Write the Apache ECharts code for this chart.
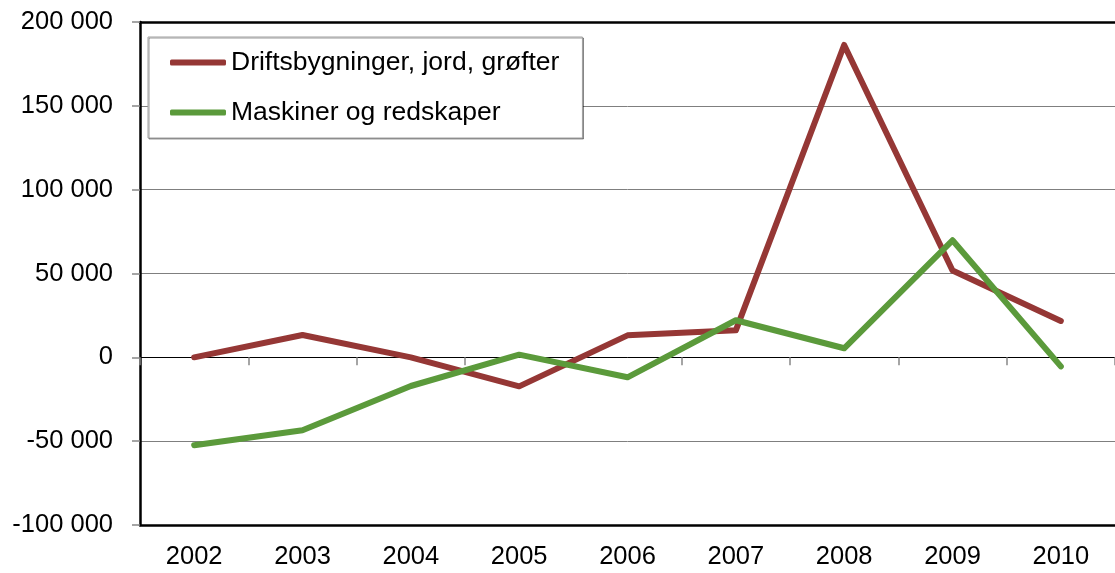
<!DOCTYPE html>
<html>
<head>
<meta charset="utf-8">
<script src="https://cdn.jsdelivr.net/npm/echarts@6/dist/echarts.min.js"></script>
<style>
html,body{margin:0;padding:0;background:#fff;}
#c{width:1115px;height:573px;}
</style>
</head>
<body>
<div id="c"></div>
<script>
var categories = ['2002','2003','2004','2005','2006','2007','2008','2009','2010'];
var seriesNames = ['Driftsbygninger, jord, grøfter','Maskiner og redskaper'];
var driftsbygninger = [0, 13300, 0, -17300, 13100, 16100, 186300, 51800, 21700];
var maskiner = [-52400, -43500, -17100, 1600, -11900, 22100, 5400, 69800, -5400];
var yMin = -100000, yMax = 200000, yStep = 50000;

function fmt(v){
  var s = String(Math.abs(v));
  s = s.replace(/\B(?=(\d{3})+(?!\d))/g, ' ');
  return (v < 0 ? '-' : '') + s;
}

var font = 'Liberation Sans, Arial, sans-serif';
var chart = echarts.init(document.getElementById('c'), null, {renderer:'canvas'});
chart.setOption({
  animation:false,
  backgroundColor:'#fff',
  textStyle:{fontFamily:font},
  grid:{left:140,right:0,top:22,bottom:48,containLabel:false},
  legend:{
    orient:'vertical',
    left:148, top:37,
    padding:[12,23,12,22],
    itemGap:23,
    itemWidth:56, itemHeight:6,
    icon:'roundRect',
    borderColor:'#a0a0a0', borderWidth:1,
    backgroundColor:'#fff',
    shadowColor:'rgba(0,0,0,0.4)', shadowBlur:0, shadowOffsetX:1, shadowOffsetY:1,
    textStyle:{fontSize:26.5,color:'#000',fontFamily:font},
    data:seriesNames
  },
  xAxis:[
    {
      type:'category', data:categories, position:'bottom',
      axisLine:{onZero:false,lineStyle:{color:'#000',width:2.5}},
      axisTick:{show:false},
      axisLabel:{fontSize:25.5,color:'#000',margin:19,fontFamily:font},
      splitLine:{show:false}
    },
    {
      type:'category', data:categories, position:'top',
      axisLine:{onZero:true,lineStyle:{color:'#000',width:1}},
      axisTick:{show:true,inside:true,length:8,lineStyle:{color:'#888',width:1.5}},
      axisLabel:{show:false},
      splitLine:{show:false}
    },
    {
      type:'category', data:categories, position:'top',
      axisLine:{onZero:false,lineStyle:{color:'#000',width:2.5}},
      axisTick:{show:false},
      axisLabel:{show:false},
      splitLine:{show:false}
    }
  ],
  yAxis:{
    type:'value', min:yMin, max:yMax, interval:yStep,
    axisLine:{show:true,onZero:false,lineStyle:{color:'#000',width:2.5}},
    axisTick:{show:true,length:8,lineStyle:{color:'#888',width:1.5}},
    axisLabel:{fontSize:25.5,color:'#000',margin:27,formatter:fmt,fontFamily:font},
    splitLine:{show:true,lineStyle:{color:'#7f7f7f',width:1}}
  },
  series:[
    {
      name:seriesNames[0], type:'line', data:driftsbygninger, xAxisIndex:0,
      symbol:'none', color:'#953735',
      lineStyle:{width:6,color:'#953735',cap:'round',join:'round'}
    },
    {
      name:seriesNames[1], type:'line', data:maskiner, xAxisIndex:0,
      symbol:'none', color:'#5b9a3b',
      lineStyle:{width:6,color:'#5b9a3b',cap:'round',join:'round'}
    }
  ]
});
</script>
</body>
</html>
